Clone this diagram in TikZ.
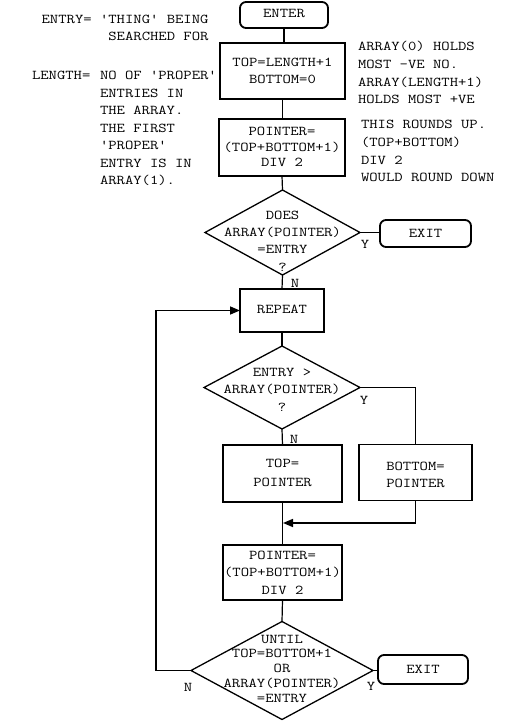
\documentclass[tikz,border=0pt]{standalone}
\usepackage{fontspec}
\newfontfamily\mono{Latin Modern Mono}[FakeStretch=1.2]
\usetikzlibrary{shapes.geometric,arrows.meta}
\newcommand{\fs}[1]{\mono\fontsize{13.5}{#1}\selectfont}
\begin{document}
\begin{tikzpicture}[x=1pt,y=-1pt,
  every node/.style={inner sep=0pt, outer sep=0pt, font=\fs{17.5}},
  procbox/.style={draw, line width=1.8pt},
  termbox/.style={draw, line width=1.8pt, rounded corners=6pt},
  decision/.style={draw, diamond, line width=1.3pt},
  txt/.style={align=center, anchor=base},
  note/.style={align=left, anchor=base west},
  conn/.style={line width=1.2pt},
  arr/.style={line width=1.6pt, -{Triangle[length=10pt,width=8pt]}}
]
\useasboundingbox (0,0) rectangle (517,722);

% left annotations (anchors at the baseline of the last line)
\node[align=right, anchor=base east, font=\fs{17}] (n1) at (208.5,41) {ENTRY= 'THING' BEING\\SEARCHED FOR};
\node[note] (n2a) at (32,80) {LENGTH=};
\node[note] (n2b) at (100,185) {NO OF 'PROPER'\\ENTRIES IN\\THE ARRAY.\\THE FIRST\\'PROPER'\\ENTRY IS IN\\ARRAY(1).};
% right annotations
\node[note, font=\fs{17.7}] (n3) at (358,104) {ARRAY(0) HOLDS\\MOST -VE NO.\\ARRAY(LENGTH+1)\\HOLDS MOST +VE};
\node[note, font=\fs{17.7}] (n4) at (361,182) {THIS ROUNDS UP.\\(TOP+BOTTOM)\\DIV 2\\WOULD ROUND DOWN};

% terminals
\node[termbox, minimum width=88pt, minimum height=26pt] (enter) at (284,15) {};
\node[txt] (enter-t) at (284,18) {ENTER};
\node[termbox, minimum width=91pt, minimum height=27pt] (exit1) at (425.5,233.5) {};
\node[txt] (exit1-t) at (425.5,237) {EXIT};
\node[termbox, minimum width=90pt, minimum height=29pt] (exit2) at (423,669.5) {};
\node[txt] (exit2-t) at (423,673) {EXIT};

% process boxes
\node[procbox, minimum width=125pt, minimum height=56pt] (init) at (282.5,71) {};
\node[txt, font=\fs{17}] (init-t) at (282.5,84) {TOP=LENGTH+1\\BOTTOM=0};
\node[procbox, minimum width=126pt, minimum height=57pt] (ptr1) at (282,147.5) {};
\node[txt, font=\fs{15.5}] (ptr1-t) at (282,167) {POINTER=\\(TOP+BOTTOM+1)\\DIV 2};
\node[procbox, minimum width=84pt, minimum height=43pt] (rep) at (282,310.5) {};
\node[txt] (rep-t) at (282,313) {REPEAT};
\node[procbox, minimum width=119pt, minimum height=57pt] (top) at (282.5,473.5) {};
\node[txt, font=\fs{19}] (top-t) at (282.5,486) {TOP=\\POINTER};
\node[procbox, minimum width=113pt, minimum height=56pt] (bot) at (415.5,472.5) {};
\node[txt, font=\fs{17}] (bot-t) at (415.5,487) {BOTTOM=\\POINTER};
\node[procbox, minimum width=119pt, minimum height=55pt] (ptr2) at (282.5,572.5) {};
\node[txt, font=\fs{17.5}] (ptr2-t) at (282.5,594) {POINTER=\\(TOP+BOTTOM+1)\\DIV 2};

% decisions
\node[decision, minimum width=155pt, minimum height=85pt] (d1) at (282.5,232.5) {};
\node[txt, font=\fs{17.3}] (d1-t) at (282.5,271) {DOES\\ARRAY(POINTER)\\=ENTRY\\?};
\node[decision, minimum width=156pt, minimum height=83pt] (d2) at (282,387.5) {};
\node[txt, font=\fs{17.5}] (d2-t) at (282,411) {ENTRY >\\ARRAY(POINTER)\\?};
\node[decision, minimum width=182pt, minimum height=98pt] (d3) at (282,670.5) {};
\node[txt, font=\fs{14.75}] (d3-t) at (282,702) {UNTIL\\TOP=BOTTOM+1\\OR\\ARRAY(POINTER)\\=ENTRY};

% labels
\node (y1) at (365,244) {Y};
\node (n1l) at (295,283) {N};
\node (y2) at (364,400) {Y};
\node (n2l) at (294,439) {N};
\node (n3l) at (188,687) {N};
\node (y3) at (371,686) {Y};

% connectors
\coordinate (merge) at (283,523);
\coordinate (loop) at (156,670.5);
\draw[conn] (enter.south) -- (enter.south |- init.north);
\draw[conn] (init.south) -- (init.south |- ptr1.north);
\draw[conn] (ptr1.south) -- (d1.north);
\draw[conn] (d1.east) -- (d1.east -| exit1.west);
\draw[conn] (d1.south) -- (rep.north);
\draw[conn] (rep.south) -- (d2.north);
\draw[conn] (d2.east) -| (bot.north);
\draw[conn] (d2.south) -- (top.north);
\draw[conn] (top.south) -- (ptr2.north);
\draw[arr] (bot.south) |- (merge);
\draw[conn] (ptr2.south) -- (d3.north);
\draw[conn] (d3.east) -- (d3.east -| exit2.west);
\draw[arr] (d3.west) -- (loop) |- (rep.west);
\end{tikzpicture}
\end{document}
